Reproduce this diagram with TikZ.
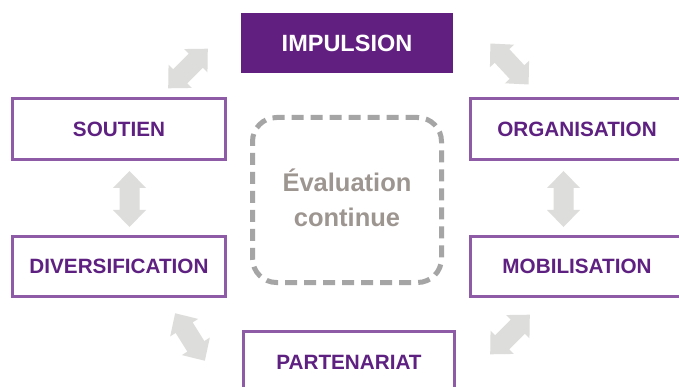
\documentclass[tikz,border=0pt]{standalone}
\usepackage{fontspec}
\setmainfont{Liberation Sans}
\definecolor{purplefill}{HTML}{612080}
\definecolor{purpleline}{HTML}{8E5CA7}
\definecolor{purpletext}{HTML}{5E2181}
\definecolor{dashgray}{HTML}{A5A5A5}
\definecolor{evaltext}{HTML}{9D9590}
\definecolor{arrowgray}{HTML}{DDDDDB}
\tikzset{
  stepbox/.style={draw=purpleline, line width=3pt, fill=white, inner sep=0pt,
    minimum width=213pt, minimum height=61pt, text=purpletext,
    font=\fontsize{20.7}{24}\selectfont\bfseries},
  topbox/.style={fill=purplefill, inner sep=0pt, minimum width=212pt, minimum height=60pt,
    text=white, font=\fontsize{23.5}{27}\selectfont\bfseries},
  evalbox/.style={draw=dashgray, line width=5pt, dash pattern=on 12pt off 7pt,
    rounded corners=24pt, inner sep=0pt, minimum width=189pt, minimum height=165pt},
  evaltxt/.style={text=evaltext, align=center, inner sep=0pt,
    font=\fontsize{25.5}{35}\selectfont\bfseries},
  dblarrow/.pic={\fill[arrowgray] (28,0) -- (11,16.5) -- (11,10) -- (-11,10) -- (-11,16.5)
    -- (-28,0) -- (-11,-16.5) -- (-11,-10) -- (11,-10) -- (11,-16.5) -- cycle;}
}
\begin{document}
\begin{tikzpicture}[x=1pt,y=-1pt]
\useasboundingbox (0,0) rectangle (679,387);
\clip (0,0) rectangle (679,387);
\fill[white] (0,0) rectangle (679,387);
\node[topbox] (impulsion) at (347,43) {IMPULSION};
\node[stepbox] (soutien) at (119,129) {SOUTIEN};
\node[stepbox, minimum height=60pt] (diversification) at (119,266.5) {DIVERSIFICATION};
\node[stepbox] (organisation) at (577,129) {ORGANISATION};
\node[stepbox, minimum height=60pt] (mobilisation) at (577,266.5) {MOBILISATION};
\node[stepbox, minimum width=211pt] (partenariat) at (349,362) {PARTENARIAT};
\node[evalbox] (eval) at (347,200) {};
\node[evaltxt] (evaltext) at (347,198) {Évaluation\\continue};
\pic[rotate=45] at (188,68.5) {dblarrow};
\pic[rotate=-47] at (509.5,64) {dblarrow};
\pic[rotate=90] at (129.5,199) {dblarrow};
\pic[rotate=90] at (563.5,199) {dblarrow};
\pic[rotate=-58] at (190,337) {dblarrow};
\pic[rotate=45] at (510,334.5) {dblarrow};
\end{tikzpicture}
\end{document}
